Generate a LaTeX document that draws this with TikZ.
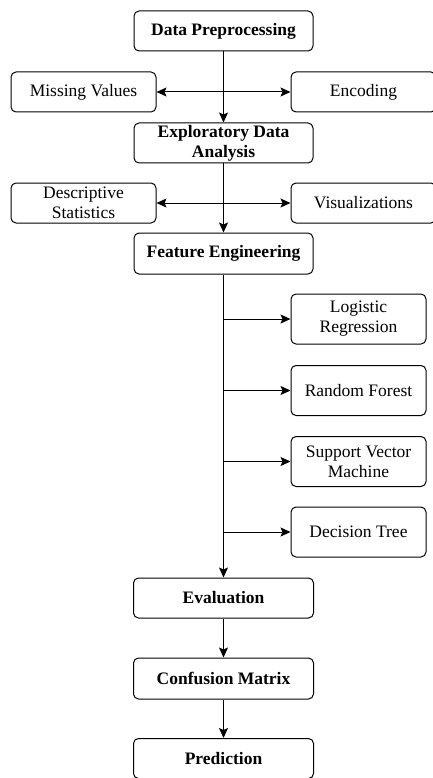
\documentclass[tikz,border=0pt]{standalone}
\usepackage{fontspec}
\setmainfont{Liberation Serif}
\usetikzlibrary{arrows.meta}

\tikzset{
	stage/.style={draw,rounded corners=5pt,line width=1pt,align=center,inner sep=2pt,
		minimum width=179pt,minimum height=40pt,font=\fontsize{17.5}{20}\selectfont\bfseries},
	side/.style={draw,rounded corners=5pt,line width=1pt,align=center,inner sep=2pt,
		minimum width=145pt,minimum height=40pt,font=\fontsize{17.5}{20}\selectfont},
	model/.style={side,minimum width=135pt,minimum height=50pt},
	flow/.style={line width=1pt,-{Stealth[length=10pt,width=9pt,inset=2pt]}},
	both/.style={line width=1pt,{Stealth[length=10pt,width=9pt,inset=2pt]}-{Stealth[length=10pt,width=9pt,inset=2pt]}}
}

\begin{document}
\begin{tikzpicture}[x=1pt,y=-1pt]
	\useasboundingbox (0,0) rectangle (433,778);

	\node[stage] (prep) at (223.5,31) {Data Preprocessing};

	\node[side] (missing) at (83.5,92) {Missing Values};
	\node[side] (encoding) at (363.5,92) {Encoding};

	\node[stage] (eda) at (223.5,143) {Exploratory Data\\Analysis};

	\node[side] (descr) at (83.5,203) {Descriptive\\Statistics};
	\node[side] (visual) at (363.5,203) {Visualizations};

	\node[stage,minimum height=41pt] (feat) at (223.5,253.5) {Feature Engineering};

	\node[model] (logreg) at (358.5,319) {Logistic\\Regression};
	\node[model] (forest) at (358.5,390.5) {Random Forest};
	\node[model] (svm) at (358.5,461.5) {Support Vector\\Machine};
	\node[model] (dtree) at (358.5,532) {Decision Tree};

	\node[stage,minimum width=180pt] (eval) at (223.5,598) {Evaluation};
	\node[stage,minimum width=180pt,minimum height=41pt] (conf) at (223.5,678.5) {Confusion Matrix};
	\node[stage,minimum width=180pt] (pred) at (223.5,758.5) {Prediction};

	\draw[flow] (prep) -- (eda);
	\draw[both] (missing) -- (encoding);

	\draw[flow] (eda) -- (feat);
	\draw[both] (descr) -- (visual);

	\draw[flow] (feat) -- (eval);
	\draw[flow] (feat.south |- logreg.west) -- (logreg);
	\draw[flow] (feat.south |- forest.west) -- (forest);
	\draw[flow] (feat.south |- svm.west) -- (svm);
	\draw[flow] (feat.south |- dtree.west) -- (dtree);

	\draw[flow] (eval) -- (conf);
	\draw[flow] (conf) -- (pred);
\end{tikzpicture}
\end{document}
